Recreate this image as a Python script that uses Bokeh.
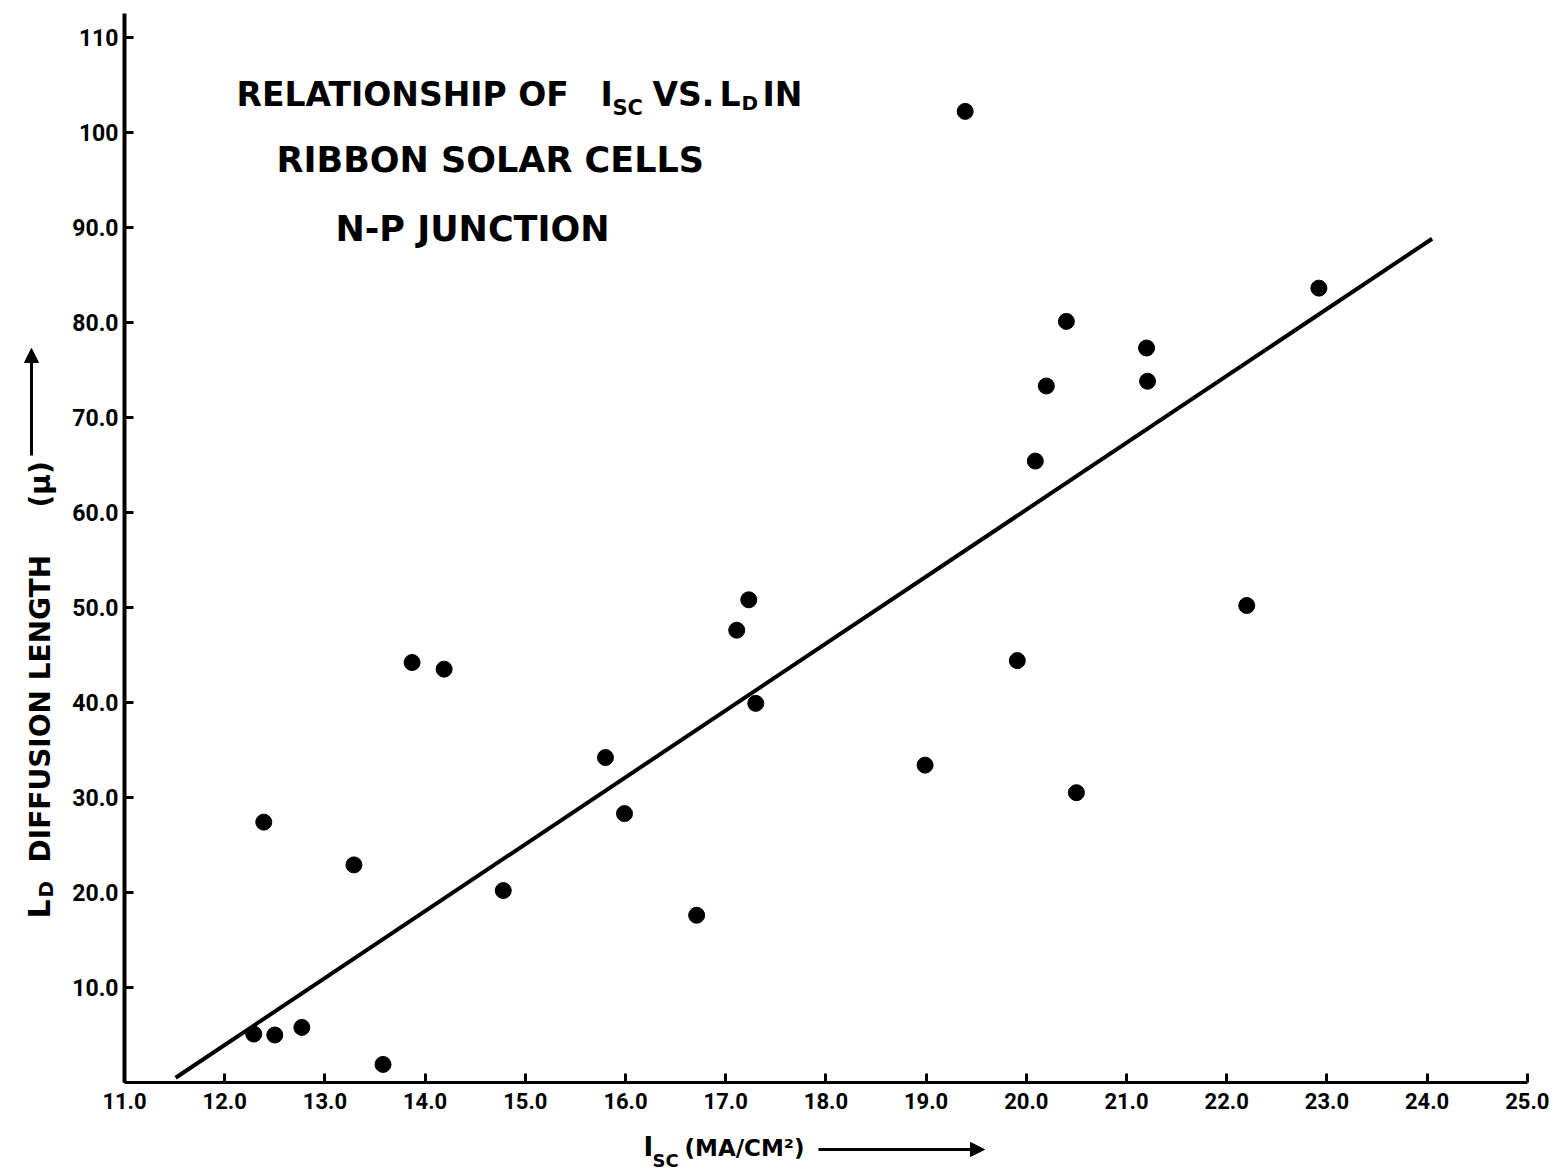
import math
from bokeh.plotting import figure
from bokeh.models import Label, Arrow, NormalHead, FixedTicker, Range1d
from bokeh.embed import file_html
from bokeh.resources import INLINE

# ---------------- data ----------------
ISC = [12.29, 12.50, 12.77, 12.39, 13.29, 13.58, 13.87, 14.19, 14.78, 15.80,
       15.99, 16.71, 17.11, 17.23, 17.30, 18.99, 19.39, 19.91, 20.09, 20.20,
       20.40, 20.50, 21.20, 21.21, 22.20, 22.92]
LD = [5.1, 5.0, 5.8, 27.4, 22.9, 1.9, 44.2, 43.5, 20.2, 34.2,
      28.3, 17.6, 47.6, 50.8, 39.9, 33.4, 102.2, 44.4, 65.4, 73.3,
      80.1, 30.5, 77.3, 73.8, 50.2, 83.6]
FIT_X = [11.51, 24.05]
FIT_Y = [0.5, 88.8]
X_TICKS = [11, 12, 13, 14, 15, 16, 17, 18, 19, 20, 21, 22, 23, 24, 25]
X_TICK_LABELS = ["11.0", "12.0", "13.0", "14.0", "15.0", "16.0", "17.0", "18.0",
                 "19.0", "20.0", "21.0", "22.0", "23.0", "24.0", "25.0"]
Y_TICKS = [10, 20, 30, 40, 50, 60, 70, 80, 90, 100, 110]
Y_TICK_LABELS = ["10.0", "20.0", "30.0", "40.0", "50.0", "60.0", "70.0", "80.0",
                 "90.0", "100", "110"]

# ---------------- layout helpers (canvas pixel -> data) ----------------
W, H = 1559, 1174
X0_PX, X_SCALE = 124.0, 100.2
Y0_PX, Y_SCALE = 1082.0, 9.502
BASE_SHIFT = 0.36  # em: correction between desired cap baseline and rendered one


def fx(px):
    return 11 + (px - X0_PX) / X_SCALE


def fy(py):
    return (Y0_PX - py) / Y_SCALE


FONT = "DejaVu Sans"
TICK_FONT = "Roboto"

p = figure(width=W, height=H,
           x_range=Range1d(fx(0), fx(W)), y_range=Range1d(fy(H), fy(0)),
           output_backend="svg", toolbar_location=None,
           min_border_left=0, min_border_right=0,
           min_border_top=0, min_border_bottom=0)
p.outline_line_color = None
p.grid.visible = False
p.background_fill_color = "white"
p.border_fill_color = "white"

for ax in (p.xaxis[0], p.yaxis[0]):
    ax.axis_line_width = 4
    ax.axis_line_color = "black"
    ax.major_tick_in = 9
    ax.major_tick_out = 0
    ax.major_tick_line_width = 3
    ax.minor_tick_line_color = None
    ax.major_label_text_font = TICK_FONT
    ax.major_label_text_font_style = "bold"
    ax.major_label_text_color = "black"

p.xaxis.fixed_location = 0
p.xaxis.bounds = (11, 25)
p.xaxis.ticker = FixedTicker(ticks=X_TICKS)
p.xaxis.major_label_overrides = {t: l for t, l in zip(X_TICKS, X_TICK_LABELS)}
p.xaxis.major_label_standoff = 10
p.xaxis.major_label_text_font_size = "22px"
p.xaxis.axis_line_width = 3

p.yaxis.fixed_location = 11
p.yaxis.bounds = (0, 112.5)
p.yaxis.ticker = FixedTicker(ticks=Y_TICKS)
p.yaxis.major_label_overrides = {t: l for t, l in zip(Y_TICKS, Y_TICK_LABELS)}
p.yaxis.major_label_standoff = 6
p.yaxis.major_label_text_font_size = "23px"

# regression line and points
p.line(FIT_X, FIT_Y, line_color="black", line_width=4)
p.scatter(ISC, LD, size=16, marker="circle", fill_color="black", line_color="black")


def lab(text, px, py, size, rotated=False, font=FONT):
    """Place text with its cap baseline at canvas pixel (px, py)."""
    shift = BASE_SHIFT * size
    if rotated:
        x, y, angle = fx(px - shift), fy(py), math.pi / 2
    else:
        x, y, angle = fx(px), fy(py - shift), 0.0
    p.add_layout(Label(x=x, y=y, text=text, text_font=font,
                       text_font_style="bold", text_font_size=f"{size}px",
                       text_color="black", text_align="left",
                       text_baseline="alphabetic", angle=angle))


# title block
lab("RELATIONSHIP OF", 236, 106, 33)
lab("I", 600, 106, 33)
lab("SC", 612, 115, 21)
lab("VS.", 652, 106, 33)
lab("L", 719, 106, 33)
lab("D", 741, 110, 20)
lab("IN", 762, 106, 33)
lab("RIBBON SOLAR CELLS", 276, 172, 35)
lab("N-P JUNCTION", 335, 241, 35)

# y-axis title (rotated)
lab("L", 50, 918, 30, rotated=True)
lab("D", 53, 897, 20, rotated=True)
lab("DIFFUSION LENGTH", 50, 862, 28, rotated=True)
lab("(\u03bc)", 50, 507, 28, rotated=True)
p.add_layout(Arrow(x_start=fx(31), y_start=fy(455), x_end=fx(31), y_end=fy(348),
                   line_width=3, line_color="black",
                   end=NormalHead(size=14, fill_color="black", line_color="black")))

# x-axis title
lab("I", 643, 1156, 26)
lab("SC", 652, 1166, 18)
lab("(MA/CM\u00b2)", 684, 1156, 23)
p.add_layout(Arrow(x_start=fx(818), y_start=fy(1149), x_end=fx(984), y_end=fy(1149),
                   line_width=3, line_color="black",
                   end=NormalHead(size=14, fill_color="black", line_color="black")))

open("out.html", "w").write(file_html(p, INLINE))
